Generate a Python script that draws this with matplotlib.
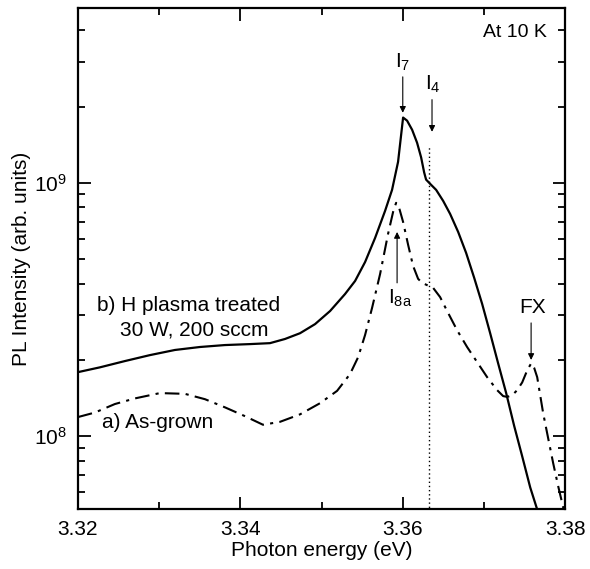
import matplotlib
matplotlib.use('Agg')
import matplotlib.pyplot as plt
from matplotlib.ticker import LogLocator, NullFormatter, LogFormatterSciNotation, MultipleLocator

plt.rcParams['font.family'] = ['Liberation Sans', 'DejaVu Sans']
plt.rcParams['mathtext.fontset'] = 'custom'
plt.rcParams['mathtext.rm'] = 'Liberation Sans'
plt.rcParams['mathtext.it'] = 'Liberation Sans'

# b) H plasma treated (solid)
energy_b = [3.32000, 3.32271, 3.32579, 3.32887, 3.33195, 3.33503, 3.33811, 3.34119,
            3.34365, 3.34550, 3.34735, 3.34920, 3.35105, 3.35289, 3.35413, 3.35536,
            3.35659, 3.35782, 3.35868, 3.35942, 3.36004, 3.36053, 3.36115, 3.36176,
            3.36226, 3.36263, 3.36287, 3.36337, 3.36411, 3.36497, 3.36583, 3.36682,
            3.36780, 3.36879, 3.36977, 3.37076, 3.37174, 3.37273, 3.37371, 3.37470,
            3.37569, 3.37655, 3.37753]
pl_b = [1.79e8, 1.87e8, 1.98e8, 2.09e8, 2.19e8, 2.25e8, 2.29e8, 2.31e8,
        2.33e8, 2.42e8, 2.55e8, 2.77e8, 3.12e8, 3.64e8, 4.10e8, 4.87e8,
        6.06e8, 7.75e8, 9.38e8, 1.21e9, 1.81e9, 1.76e9, 1.62e9, 1.44e9,
        1.26e9, 1.10e9, 1.03e9, 9.91e8, 9.38e8, 8.49e8, 7.54e8, 6.40e8,
        5.29e8, 4.22e8, 3.33e8, 2.55e8, 1.94e8, 1.48e8, 1.10e8, 8.34e7,
        6.28e7, 5.14e7, 4.25e7]

# a) As-grown (dash-dot)
energy_a = [3.32000, 3.32209, 3.32456, 3.32702, 3.33010, 3.33318, 3.33565, 3.33811,
            3.34057, 3.34279, 3.34489, 3.34735, 3.34981, 3.35191, 3.35351, 3.35450,
            3.35536, 3.35622, 3.35721, 3.35819, 3.35881, 3.35918, 3.35955, 3.36004,
            3.36066, 3.36127, 3.36189, 3.36238, 3.36374, 3.36460, 3.36546, 3.36669,
            3.36792, 3.36916, 3.37039, 3.37162, 3.37236, 3.37285, 3.37347, 3.37408,
            3.37470, 3.37532, 3.37581, 3.37618, 3.37655, 3.37729, 3.37790, 3.37852,
            3.37914, 3.37975, 3.38012]
pl_a = [1.19e8, 1.24e8, 1.34e8, 1.41e8, 1.48e8, 1.47e8, 1.40e8, 1.30e8,
        1.20e8, 1.11e8, 1.14e8, 1.22e8, 1.35e8, 1.51e8, 1.76e8, 2.05e8,
        2.51e8, 3.21e8, 4.37e8, 6.29e8, 7.68e8, 8.34e8, 7.97e8, 7.01e8,
        5.69e8, 4.70e8, 4.18e8, 4.03e8, 3.85e8, 3.54e8, 3.12e8, 2.62e8,
        2.25e8, 1.96e8, 1.71e8, 1.52e8, 1.44e8, 1.43e8, 1.45e8, 1.52e8,
        1.63e8, 1.82e8, 1.94e8, 1.86e8, 1.71e8, 1.23e8, 9.82e7, 7.82e7,
        6.34e7, 5.24e7, 4.45e7]

# peak markers: label, x, arrow start, arrow end
peak_names = ['$\\mathregular{I_7}$', '$\\mathregular{I_4}$', '$\\mathregular{I_{8a}}$', 'FX']
peak_x = [3.3600, 3.3636, 3.3593, 3.3758]
arrow_from = [2.62e9, 2.13e9, 4.03e8, 2.80e8]
arrow_to = [1.89e9, 1.59e9, 6.40e8, 2.00e8]
i4_line_x = 3.3632
i4_line_top = 1.39e9

fig = plt.figure(figsize=(5.9, 5.69), dpi=100)
ax = fig.add_axes([0.132, 0.105, 0.826, 0.881])

ax.plot(energy_b, pl_b, color='black', lw=1.6)
ax.plot(energy_a, pl_a, color='black', lw=1.5, dashes=(7, 3, 1.5, 3))

ax.set_yscale('log')
ax.set_xlim(3.32, 3.38)
ax.set_ylim(5.15e7, 4.9e9)

ax.vlines(i4_line_x, 1e7, i4_line_top, colors='black', linestyles=(0, (1, 2)), lw=1)

for i in range(len(peak_names)):
    ax.annotate('', xy=(peak_x[i], arrow_to[i]), xytext=(peak_x[i], arrow_from[i]),
                arrowprops=dict(arrowstyle='-|>', color='black', lw=0.8,
                                mutation_scale=9, shrinkA=0, shrinkB=0))

ax.text(3.3600, 2.72e9, peak_names[0], ha='center', va='bottom', fontsize=15)
ax.text(3.3637, 2.22e9, peak_names[1], ha='center', va='bottom', fontsize=15)
ax.text(3.3597, 3.85e8, peak_names[2], ha='center', va='top', fontsize=15)
ax.text(3.3760, 2.95e8, peak_names[3], ha='center', va='bottom', fontsize=15)

ax.text(0.963, 0.952, 'At 10 K', transform=ax.transAxes, ha='right', va='center', fontsize=14)
ax.text(0.039, 0.407, 'b) H plasma treated', transform=ax.transAxes, ha='left', va='center', fontsize=15)
ax.text(0.086, 0.357, '30 W, 200 sccm', transform=ax.transAxes, ha='left', va='center', fontsize=15)
ax.text(0.049, 0.174, 'a) As-grown', transform=ax.transAxes, ha='left', va='center', fontsize=15)

ax.xaxis.set_major_locator(MultipleLocator(0.02))
ax.xaxis.set_minor_locator(MultipleLocator(0.01))
ax.xaxis.set_major_formatter(plt.FuncFormatter(lambda v, p: '%.2f' % v))
ax.yaxis.set_major_locator(LogLocator(base=10))
ax.yaxis.set_major_formatter(LogFormatterSciNotation())
ax.yaxis.set_minor_locator(LogLocator(base=10, subs=range(2, 10)))
ax.yaxis.set_minor_formatter(NullFormatter())

ax.tick_params(which='both', direction='in', top=True, right=True, labelsize=15, width=1.3)
ax.tick_params(which='major', length=9, pad=8)
ax.tick_params(which='minor', length=5)
for s in ax.spines.values():
    s.set_linewidth(1.6)

ax.set_xlabel('Photon energy (eV)', fontsize=15, labelpad=1)
ax.set_ylabel('PL Intensity (arb. units)', fontsize=15, labelpad=2)

fig.savefig('out.png', dpi=100)
